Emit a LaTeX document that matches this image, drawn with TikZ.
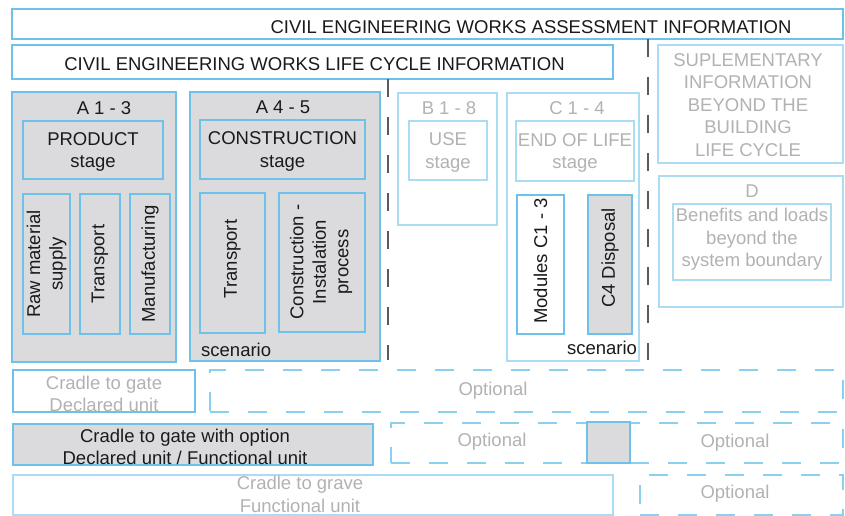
\documentclass[tikz,border=0pt]{standalone}
\usepackage{fontspec}
\setmainfont{Liberation Sans}
\definecolor{bluE}{HTML}{6EC2EA}
\definecolor{paleblue}{HTML}{ABDCF3}
\definecolor{dashblue}{HTML}{8CCFEF}
\definecolor{boxgray}{HTML}{DBDBDD}
\definecolor{txtgray}{HTML}{B2B2B2}
\definecolor{txtblack}{HTML}{1A1A1A}
\definecolor{dashgray}{HTML}{5A5A5A}
\newcommand\bx[6]{\node[#6, minimum width={(#4-#2)*1pt}, minimum height={(#5-#3)*1pt}] (#1) at ({(#2+#4)/2},{(#3+#5)/2}) {};}
\tikzset{
  every node/.style={font=\fontsize{18.5}{22.5}\selectfont, inner sep=0pt, align=center, text=txtblack},
  graybox/.style={draw=bluE, line width=1.4pt, fill=boxgray},
  whitebox/.style={draw=bluE, line width=1.4pt, fill=white},
  palebox/.style={draw=paleblue, line width=1.4pt, fill=white},
  dashbox/.style={draw=dashblue, line width=1.2pt, dash pattern=on 19pt off 19pt},
  tx/.style={yshift=-1.8pt},
  gtext/.style={tx, text=txtgray},
  sepline/.style={draw=dashgray, line width=1.3pt, dash pattern=on 18pt off 20pt}
}
\begin{document}
\begin{tikzpicture}[x=1pt,y=-1pt]
\useasboundingbox (0,0) rectangle (845,516);
% headers
\bx{assess}{12}{9}{843}{39}{whitebox}
\node[tx] (assesst) at (531,25) {CIVIL ENGINEERING WORKS ASSESSMENT INFORMATION};
\bx{life}{12}{45}{613}{79}{whitebox}
\node[tx] (lifet) at (314.5,62) {CIVIL ENGINEERING WORKS LIFE CYCLE INFORMATION};
% separators
\coordinate (s1a) at (388,79); \coordinate (s1b) at (388,360);
\coordinate (s2a) at (648,39); \coordinate (s2b) at (648,360);
\draw[sepline] (s1a) -- (s1b);
\draw[sepline] (s2a) -- (s2b);
% A1-3
\bx{a13}{12}{92}{176}{362}{graybox}
\node[tx] (a13t) at (104,106) {A 1 - 3};
\bx{prod}{23}{121}{163}{179}{graybox}
\node[tx] (prodt) at (prod.center) {PRODUCT\\stage};
\bx{raw}{23}{194}{70}{334}{graybox}
\node[rotate=90] (rawt) at (raw.center) {Raw material\\supply};
\bx{tr1}{80}{194}{120}{334}{graybox}
\node[rotate=90] (tr1t) at (tr1.center) {Transport};
\bx{man}{130}{194}{170}{334}{graybox}
\node[rotate=90] (mant) at (man.center) {Manufacturing};
% A4-5
\bx{a45}{190}{92}{380}{361}{graybox}
\node[tx] (a45t) at (283,105) {A 4 - 5};
\bx{cons}{200}{120}{365}{179}{graybox}
\node[tx] (const) at (cons.center) {CONSTRUCTION\\stage};
\bx{tr2}{200}{193}{265}{333}{graybox}
\node[rotate=90] (tr2t) at (232.5,259) {Transport};
\bx{ci}{279}{193}{365}{332}{graybox}
\node[rotate=90] (cit) at (321,262) {Construction -\\Instalation\\process};
\node[tx, anchor=west] (scen1) at (201,348) {scenario};
% B1-8
\bx{b18}{398}{93}{497}{225}{palebox}
\node[gtext] (b18t) at (449,106) {B 1 - 8};
\bx{use}{409}{121}{487}{180}{palebox}
\node[gtext] (uset) at (use.center) {USE\\stage};
% C1-4
\bx{c14}{507}{93}{639}{361}{palebox}
\node[gtext] (c14t) at (577,106) {C 1 - 4};
\bx{eol}{516}{121}{634}{181}{palebox}
\node[gtext] (eolt) at (eol.center) {END OF LIFE\\stage};
\bx{modc}{517}{195}{564}{334}{whitebox}
\node[rotate=90] (modct) at (540.5,261) {Modules C1 - 3};
\bx{c4}{588}{195}{632}{334}{graybox}
\node[rotate=90] (c4t) at (610,258) {C4 Disposal};
\node[tx] (scen2) at (602,346) {scenario};
% supplementary
\bx{supp}{658}{45}{843}{163}{palebox}
\node[gtext] (suppt) at (748,103) {SUPLEMENTARY\\INFORMATION\\BEYOND THE\\BUILDING\\LIFE CYCLE};
\bx{d}{659}{176}{843}{307}{palebox}
\node[gtext] (dt) at (752,189) {D};
\bx{ben}{673}{204}{831}{280}{palebox}
\node[gtext] (bent) at (752,237.5) {Benefits and loads\\beyond the\\system boundary};
% bottom rows
\bx{ctg}{13}{370}{195}{412}{whitebox}
\node[gtext] (ctgt) at (104,392) {Cradle to gate\\Declared unit};
\bx{opt1}{210}{370}{843}{412}{dashbox}
\node[gtext] (opt1t) at (493,389) {Optional};
\bx{ctgo}{13}{424}{373}{465}{graybox}
\node[tx] (ctgot) at (185,445) {Cradle to gate with option\\Declared unit / Functional unit};
\bx{opt2}{391}{423}{587}{463}{dashbox}
\node[gtext] (opt2t) at (492,440) {Optional};
\bx{opt3}{630}{423}{843}{463}{dashbox}
\node[gtext] (opt3t) at (735,441) {Optional};
\bx{sq}{587}{422}{630}{463}{graybox}
\bx{ctgr}{13}{475}{613}{515}{palebox}
\node[text=txtgray] (ctgrt) at (300,494.5) {Cradle to grave\\Functional unit};
\bx{opt4}{640}{475}{843}{515}{dashbox}
\node[gtext] (opt4t) at (735,492) {Optional};
\end{tikzpicture}
\end{document}
